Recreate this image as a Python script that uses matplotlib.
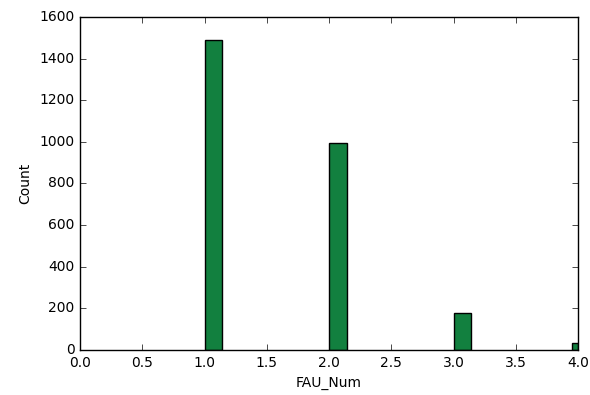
import matplotlib
matplotlib.use('Agg')
import matplotlib.pyplot as plt

plt.style.use('classic')

# histogram bins for FAU_Num
bin_left = [1.0, 2.0, 3.0, 3.95]
bin_width = [0.14, 0.14, 0.14, 0.05]
counts = [1488, 995, 178, 35]

fig = plt.figure(figsize=(5.9, 3.95), dpi=100, facecolor='white')
ax = fig.add_axes([0.1356, 0.114, 0.8444, 0.843])
ax.bar(bin_left, counts, width=bin_width, align='edge',
       color='#12803f', edgecolor='black', linewidth=1)

ax.set_xlim(0, 4.0)
ax.set_ylim(0, 1600)
ax.set_xticks([0.0, 0.5, 1.0, 1.5, 2.0, 2.5, 3.0, 3.5, 4.0])
ax.set_yticks(range(0, 1601, 200))
ax.tick_params(labelsize=10)
ax.set_xlabel('FAU_Num', fontsize=10)
ax.set_ylabel('Count', fontsize=10)

fig.savefig('out.png', dpi=100, facecolor='white')
